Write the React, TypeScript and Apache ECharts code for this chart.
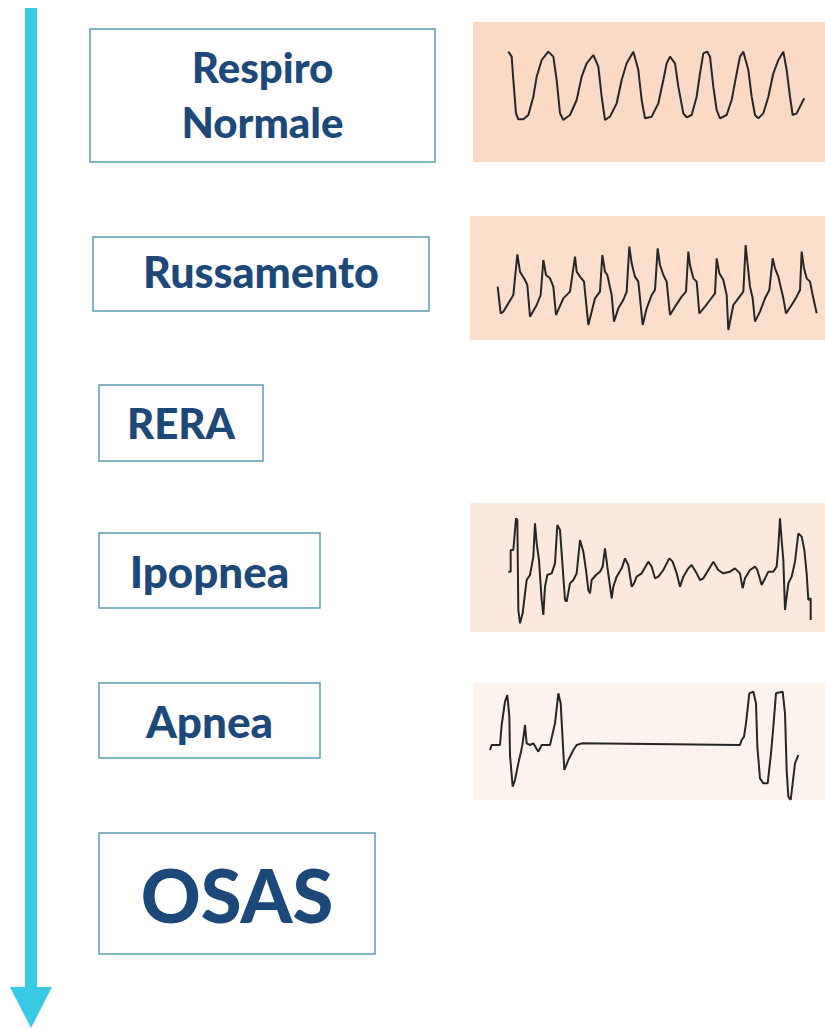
import React, { useEffect, useRef } from "react";
import * as echarts from "echarts";

// Stage labels (top to bottom)
const stageLabels: string[][] = [["Respiro", "Normale"], ["Russamento"], ["RERA"], ["Ipopnea"], ["Apnea"], ["OSAS"]];

// Waveforms: [time, amplitude]
const normaleWave: number[][] = [
  [115, 205], [125, 190], [130, 120], [138, 20], [145, 2], [160, 2], [175, 15], [190, 70], [200, 130], [215, 180],
  [235, 205], [250, 190], [260, 120], [270, 20], [280, 0], [300, 15], [320, 60], [335, 130], [350, 170], [370, 195],
  [385, 160], [395, 70], [405, 0], [420, 10], [440, 50], [455, 120], [470, 170], [490, 205], [505, 150], [515, 60],
  [525, 5], [545, 10], [565, 50], [580, 120], [590, 170], [600, 190], [615, 170], [625, 100], [640, 20], [650, 8],
  [665, 15], [680, 70], [690, 140], [700, 200], [712, 205], [720, 190], [730, 100], [740, 30], [750, 5], [770, 15],
  [785, 60], [800, 140], [810, 190], [820, 205], [835, 150], [845, 70], [855, 15], [865, 5], [880, 20], [895, 70],
  [910, 140], [925, 180], [940, 205], [950, 150], [960, 70], [968, 15], [980, 20], [995, 50], [1003, 65],
];

const russamentoWave: number[][] = [
  [83, 85], [92, 5], [100, 10], [130, 60], [142, 182], [150, 130], [165, 105], [172, 90], [180, -5], [200, 30],
  [212, 60], [220, 165], [228, 120], [240, 110], [250, 85], [258, 0], [280, 50], [300, 70], [315, 175], [320, 130],
  [330, 115], [342, 100], [355, -30], [365, 10], [375, 50], [390, 70], [397, 180], [405, 130], [412, 120], [425, 60],
  [432, -20], [445, 20], [460, 45], [470, 70], [478, 205], [485, 155], [495, 115], [505, 100], [518, -30], [530, 20],
  [545, 60], [555, 75], [563, 200], [570, 150], [580, 120], [590, 100], [600, 0], [615, 25], [635, 55], [648, 70],
  [655, 190], [660, 150], [670, 110], [680, 100], [688, 5], [705, 25], [720, 45], [735, 65], [740, 170], [748, 125],
  [760, 105], [770, 60], [775, -45], [790, 30], [805, 50], [820, 70], [827, 210], [832, 160], [840, 85], [848, 50],
  [855, -20], [870, 10], [885, 50], [898, 75], [908, 170], [915, 140], [925, 115], [940, 50], [948, 5], [965, 30],
  [980, 55], [990, 75], [995, 190], [1002, 140], [1010, 110], [1020, 100], [1028, 60], [1040, 5],
];

const ipopneaWave: number[][] = [
  [115, 85], [122, 85], [122, 150], [130, 150], [138, 245], [142, 240], [145, -30], [150, -70], [158, -40], [165, 20],
  [170, 60], [180, 75], [190, 130], [195, 230], [200, 170], [207, 120], [215, 0], [220, -45], [225, 40], [232, 75],
  [245, 80], [255, 110], [262, 225], [270, 210], [275, 140], [285, 0], [290, -5], [300, 50], [310, 60], [320, 80],
  [330, 180], [340, 145], [348, 90], [355, 30], [360, 20], [365, 60], [378, 75], [390, 85], [398, 100], [405, 155],
  [412, 100], [425, 5], [430, 40], [440, 70], [455, 95], [465, 125], [475, 105], [485, 40], [492, 50], [500, 70],
  [515, 80], [535, 115], [545, 100], [555, 65], [565, 70], [580, 90], [598, 125], [608, 115], [620, 80], [630, 40],
  [640, 70], [655, 95], [665, 105], [680, 80], [690, 60], [700, 65], [712, 85], [730, 115], [745, 90], [760, 80],
  [780, 85], [795, 95], [810, 80], [818, 35], [825, 65], [840, 90], [855, 100], [862, 90], [875, 45], [885, 65],
  [895, 85], [910, 85], [920, 100], [925, 160], [930, 245], [935, 180], [940, 120], [945, -30], [950, 10], [955, 50],
  [965, 70], [975, 115], [985, 200], [995, 190], [1003, 150], [1010, 80], [1015, 0], [1022, 5], [1022, -60],
];

const apneaWave: number[][] = [
  [60, 90], [65, 105], [90, 105], [95, 165], [105, 235], [112, 255], [118, 190], [120, 75], [128, -20], [135, 0],
  [145, 50], [152, 80], [158, 110], [165, 165], [170, 110], [180, 105], [190, 110], [205, 85], [215, 105], [240, 105],
  [255, 170], [265, 260], [272, 230], [278, 120], [283, 30], [295, 60], [310, 90], [320, 105], [335, 110], [810, 105],
  [815, 120], [822, 130], [828, 170], [838, 260], [850, 265], [858, 230], [862, 100], [870, 5], [880, -10], [893, -10],
  [903, 80], [910, 160], [918, 260], [938, 265], [945, 200], [950, 30], [955, -50], [962, -60], [968, -10], [975, 50],
  [985, 75],
];

const waves = [normaleWave, russamentoWave, ipopneaWave, apneaWave];

// layout
const panels = [
  { left: 473, top: 22, width: 352, height: 140, xMin: 9, xMax: 1065, yMin: -126, yMax: 294, bg: "#FADAC5" },
  { left: 470, top: 216, width: 355, height: 124, xMin: 0, xMax: 1065, yMin: -75, yMax: 297, bg: "#FBDFCC" },
  { left: 470, top: 503, width: 355, height: 129, xMin: 0, xMax: 1065, yMin: -96, yMax: 291, bg: "#FCE9DD" },
  { left: 473, top: 683, width: 352, height: 117, xMin: 9, xMax: 1065, yMin: -60, yMax: 291, bg: "#FDF3EE" },
];

const boxes = [
  { x: 90, y: 29, w: 345, h: 133, size: 42, lines: [67, 122] },
  { x: 93, y: 237, w: 336, h: 74, size: 43, lines: [271] },
  { x: 99, y: 385, w: 164, h: 76, size: 42, lines: [423] },
  { x: 99, y: 533, w: 221, h: 75, size: 44, lines: [571] },
  { x: 99, y: 683, w: 221, h: 75, size: 44, lines: [721] },
  { x: 99, y: 833, w: 276, h: 121, size: 74, lines: [894] },
];

const TEXT_COLOR = "#1C487A";
const BOX_COLOR = "#5B9DB3";
const ARROW_COLOR = "#38C9E4";

export default function App() {
  const ref = useRef<HTMLDivElement>(null);
  useEffect(() => {
    if (!ref.current) return;
    const chart = echarts.init(ref.current, undefined, { renderer: "svg" });
    const graphics: any[] = [];
    // arrow
    graphics.push({ type: "rect", shape: { x: 25, y: 8, width: 12, height: 982 }, style: { fill: ARROW_COLOR }, z: 10 });
    graphics.push({ type: "polygon", shape: { points: [[10, 987], [52, 987], [31, 1028]] }, style: { fill: ARROW_COLOR }, z: 10 });
    boxes.forEach((b, i) => {
      graphics.push({
        type: "rect",
        shape: { x: b.x, y: b.y, width: b.w, height: b.h },
        style: { fill: "#fff", stroke: BOX_COLOR, lineWidth: 1.5 },
        z: 10,
      });
      stageLabels[i].forEach((t, j) => {
        graphics.push({
          type: "text",
          x: b.x + b.w / 2,
          y: b.lines[j],
          style: {
            text: t,
            font: `900 ${b.size}px Lato`,
            fill: TEXT_COLOR,
            textAlign: "center",
            textVerticalAlign: "middle",
            align: "center",
            verticalAlign: "middle",
          },
          z: 11,
        });
      });
    });

    chart.setOption({
      animation: false,
      backgroundColor: "#ffffff",
      grid: panels.map((p) => ({
        left: p.left, top: p.top, width: p.width, height: p.height,
        show: true, backgroundColor: p.bg, borderWidth: 0,
      })),
      xAxis: panels.map((p, i) => ({ type: "value", gridIndex: i, min: p.xMin, max: p.xMax, show: false })),
      yAxis: panels.map((p, i) => ({ type: "value", gridIndex: i, min: p.yMin, max: p.yMax, show: false })),
      series: waves.map((w, i) => ({
        type: "line",
        xAxisIndex: i,
        yAxisIndex: i,
        data: w,
        symbol: "none",
        lineStyle: { color: "#262626", width: 2 },
        silent: true,
      })),
      graphic: graphics,
    });
    return () => chart.dispose();
  }, []);
  return <div ref={ref} style={{ position: "absolute", left: 0, top: 0, width: 825, height: 1029 }} />;
}
